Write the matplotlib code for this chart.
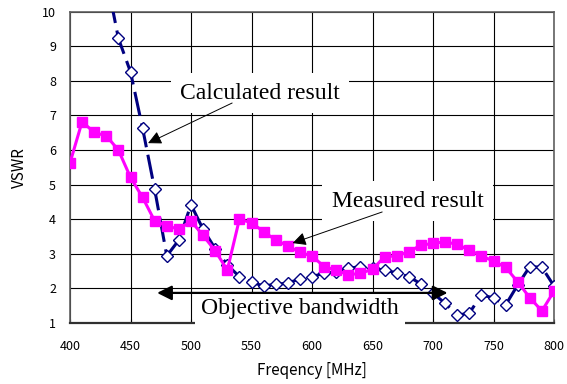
import numpy as np
import matplotlib.pyplot as plt

# 周波数 [MHz]
freq = np.arange(400, 801, 10)

# 測定値 (magenta squares)
measured = [5.63, 6.82, 6.51, 6.41, 6.00, 5.21, 4.63, 3.95, 3.81, 3.71,
            3.95, 3.53, 3.09, 2.53, 4.00, 3.90, 3.64, 3.40, 3.23, 3.04,
            2.94, 2.63, 2.53, 2.39, 2.44, 2.55, 2.92, 2.94, 3.06, 3.25,
            3.30, 3.35, 3.27, 3.11, 2.94, 2.79, 2.61, 2.19, 1.73, 1.35,
            1.92]

# 計算値 (navy open diamonds, dashed)
calculated = [15.0, 13.6, 12.3, 11.0, 9.23, 8.26, 6.63, 4.86, 2.94, 3.40,
              4.42, 3.71, 3.15, 2.68, 2.34, 2.18, 2.07, 2.12, 2.15, 2.28,
              2.34, 2.44, 2.48, 2.58, 2.63, 2.58, 2.53, 2.45, 2.34, 2.13,
              1.86, 1.57, 1.23, 1.28, 1.82, 1.72, 1.52, 2.10, 2.63, 2.61,
              2.07]

xticks = [400, 450, 500, 550, 600, 650, 700, 750, 800]
yticks = list(range(1, 11))

tick_font = ['Noto Sans CJK JP', 'DejaVu Sans']
note_font = 'Liberation Serif'

fig = plt.figure(figsize=(5.67, 3.84), dpi=100)
ax = fig.add_axes([70/567, 1-323/384, 484/567, (323-11.7)/384])

ax.plot(freq, calculated, color='#000080', lw=2.2, dashes=(8, 2.5),
        marker='D', ms=6, mfc='white', mec='#000080', mew=1.0,
        zorder=3, clip_on=True)
ax.plot(freq, measured, color='#FF00FF', lw=2.2,
        marker='s', ms=7.5, mfc='#FF00FF', mec='#FF00FF',
        zorder=4)

ax.set_xlim(400, 800)
ax.set_ylim(1, 10)
ax.set_xticks(xticks)
ax.set_yticks(yticks)
ax.grid(True, color='black', lw=0.8)
ax.set_axisbelow(True)
ax.tick_params(axis='y', length=0, pad=10, labelsize=9)
ax.tick_params(axis='x', length=3, direction='in', pad=12, labelsize=9)
for lab in ax.get_xticklabels() + ax.get_yticklabels():
    lab.set_family(tick_font)

for s in ['left', 'top', 'right']:
    ax.spines[s].set_color('#606060')
    ax.spines[s].set_linewidth(1.2)
ax.spines['bottom'].set_color('#303030')
ax.spines['bottom'].set_linewidth(1.6)

ax.set_xlabel('Freqency [MHz]', family=tick_font, fontsize=11, labelpad=7)
ax.set_ylabel('VSWR', family=tick_font, fontsize=11, labelpad=10)

box = dict(boxstyle='square,pad=0.4', fc='white', ec='none')
arrow = dict(arrowstyle='-|>', color='black', lw=0.7, mutation_scale=20,
             shrinkA=0, shrinkB=0)

ax.text(557, 7.64, 'Calculated result', family=note_font, fontsize=17,
        ha='center', va='center', bbox=box, zorder=5)
ax.annotate('', xy=(464.5, 6.2), xytext=(534, 7.36), arrowprops=arrow,
            zorder=6)

ax.text(679, 4.52, 'Measured result', family=note_font, fontsize=17,
        ha='center', va='center', bbox=box, zorder=5)
ax.annotate('', xy=(584, 3.31), xytext=(658, 4.21), arrowprops=arrow,
            zorder=6)

ax.text(590, 1.43, 'Objective bandwidth', family=note_font, fontsize=17,
        ha='center', va='center',
        bbox=dict(boxstyle='square,pad=0.25', fc='white', ec='none'),
        zorder=5)
ax.annotate('', xy=(472, 1.87), xytext=(712, 1.87),
            arrowprops=dict(arrowstyle='<|-|>', color='black', lw=1.6,
                            mutation_scale=22, shrinkA=0, shrinkB=0),
            zorder=6)

fig.savefig('out.png', dpi=100)
